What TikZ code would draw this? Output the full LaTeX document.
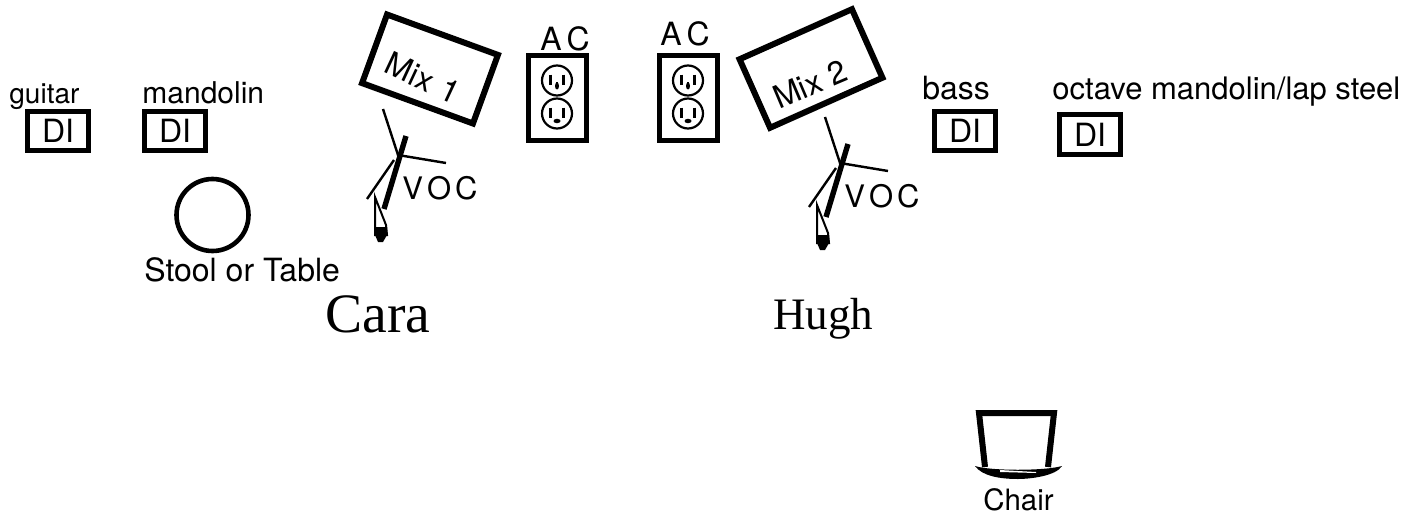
\documentclass[tikz,border=0pt]{standalone}
\usepackage{fontspec}
\newfontfamily\helv{TeX Gyre Heros}
\newfontfamily\serifname{Liberation Serif}
\tikzset{
    lbl/.style={font=\helv\fontsize{#1}{18}\selectfont, anchor=base west, inner sep=0pt},
    lbl/.default=15.5,
    namelbl/.style={font=\serifname\fontsize{#1}{28}\selectfont, anchor=base west, inner sep=0pt},
    dibox/.style={draw, line width=2.5pt, minimum width=30.5pt, minimum height=19.5pt, inner sep=0pt,
        font=\helv\fontsize{16}{16}\selectfont},
    mixbox/.style={draw, line width=3pt, minimum width=59pt, minimum height=36.5pt, inner sep=0pt},
    outletbox/.style={draw, line width=2.5pt, minimum width=29pt, minimum height=42.5pt, inner sep=0pt},
    pics/outlet/.style={code={
        \foreach \y in {-16.5, 16.5} {
            \draw[line width=1.1pt] (0,\y) circle (15);
            \draw[line width=1.1pt] (-6.5,\y-6) -- (-6.5,\y+4);
            \draw[line width=1.1pt] (6.5,\y-6) -- (6.5,\y+4);
        }
        \fill (0,-11) ellipse (2 and 3.5);
        \draw[line width=1.1pt] (0,-15) -- (0,-11);
        \fill (0,24) ellipse (3.5 and 2.2);
    }},
    pics/mic/.style={code={
        \draw[line width=2.7pt] (8,-19) -- (-14,54);
        \draw[line width=1.2pt] (-15,-46) -- (0,0) -- (48,8);
        \draw[line width=1.2pt] (-4,5) -- (-31,44);
        \draw[line width=1pt, fill=white] (-23,42) -- (-12,70) -- (-11,80) -- (-23,80) -- cycle;
        \fill (-23,72) -- (-11,72) -- (-11,80) -- (-15,87) -- (-20,87) -- (-23,80) -- cycle;
    }},
}
\begin{document}
\begin{tikzpicture}[x=0.5pt,y=-0.5pt]
\useasboundingbox (0,0) rectangle (1419,514);

\node[dibox] (guitarbox) at (58,131) {DI\hspace{5pt}};
\node[dibox] (mandolinbox) at (175,131) {DI\hspace{4pt}};
\node[dibox] (bassbox) at (965,131) {DI\hspace{5pt}};
\node[dibox, minimum height=20pt] (octavebox) at (1090,134.5) {DI\hspace{4pt}};
\node[lbl=14] (guitar) at (9,103) {guitar};
\node[lbl=15] (mandolin) at (142,103) {mandolin};
\node[lbl=16] (bass) at (922,99) {bass};
\node[lbl] (octave) at (1052,99) {octave mandolin/lap steel};

\node[draw, circle, line width=2.3pt, minimum size=36pt, inner sep=0pt] (stool) at (212.5,215) {};
\node[lbl=16] (stoollbl) at (144,281) {Stool or Table};

\node[mixbox, rotate=-20] (mixa) at (430,69) {};
\node[lbl=16, rotate=-25, anchor=center] (mixalbl) at (423,78) {Mix\kern1pt{} 1};
\node[mixbox, minimum width=61.5pt, minimum height=37.5pt, rotate=24] (mixb) at (811,68.5) {};
\node[lbl=16, rotate=23, anchor=center] (mixblbl) at (810,84) {Mix 2};

\node[outletbox] (outleta) at (557,98) {};
\node[outletbox] (outletb) at (688,98) {};
\pic at (557,97) {outlet};
\pic at (688,97) {outlet};
\node[lbl=16] (aca) at (540,50) {A\kern2.5pt C};
\node[lbl=16] (acb) at (660,46) {A\kern2.5pt C};

\pic at (398,155) {mic};
\pic at (840,163) {mic};
\node[lbl] (voca) at (402,199) {V\kern2pt O\kern2pt C};
\node[lbl] (vocb) at (844,207) {V\kern2pt O\kern2pt C};

\node[namelbl=27.8] (cara) at (325,332) {Cara};
\node[namelbl=22.5] (hugh) at (773,329) {Hugh};

\draw[line width=3pt, line join=miter] (985,467) -- (979,413) -- (1054,413) -- (1048,467);
\fill (975,466) .. controls (990,471) and (1045,471) .. (1062,466)
    .. controls (1056,476) and (1030,479) .. (1018,479)
    .. controls (1000,479) and (982,476) .. (975,466) -- cycle;
\fill[white] (1000,470) -- (1036,472) -- (1036,473) -- (1000,472) -- cycle;
\node[lbl=14.7] (chair) at (983,510) {Chair};
\end{tikzpicture}
\end{document}
